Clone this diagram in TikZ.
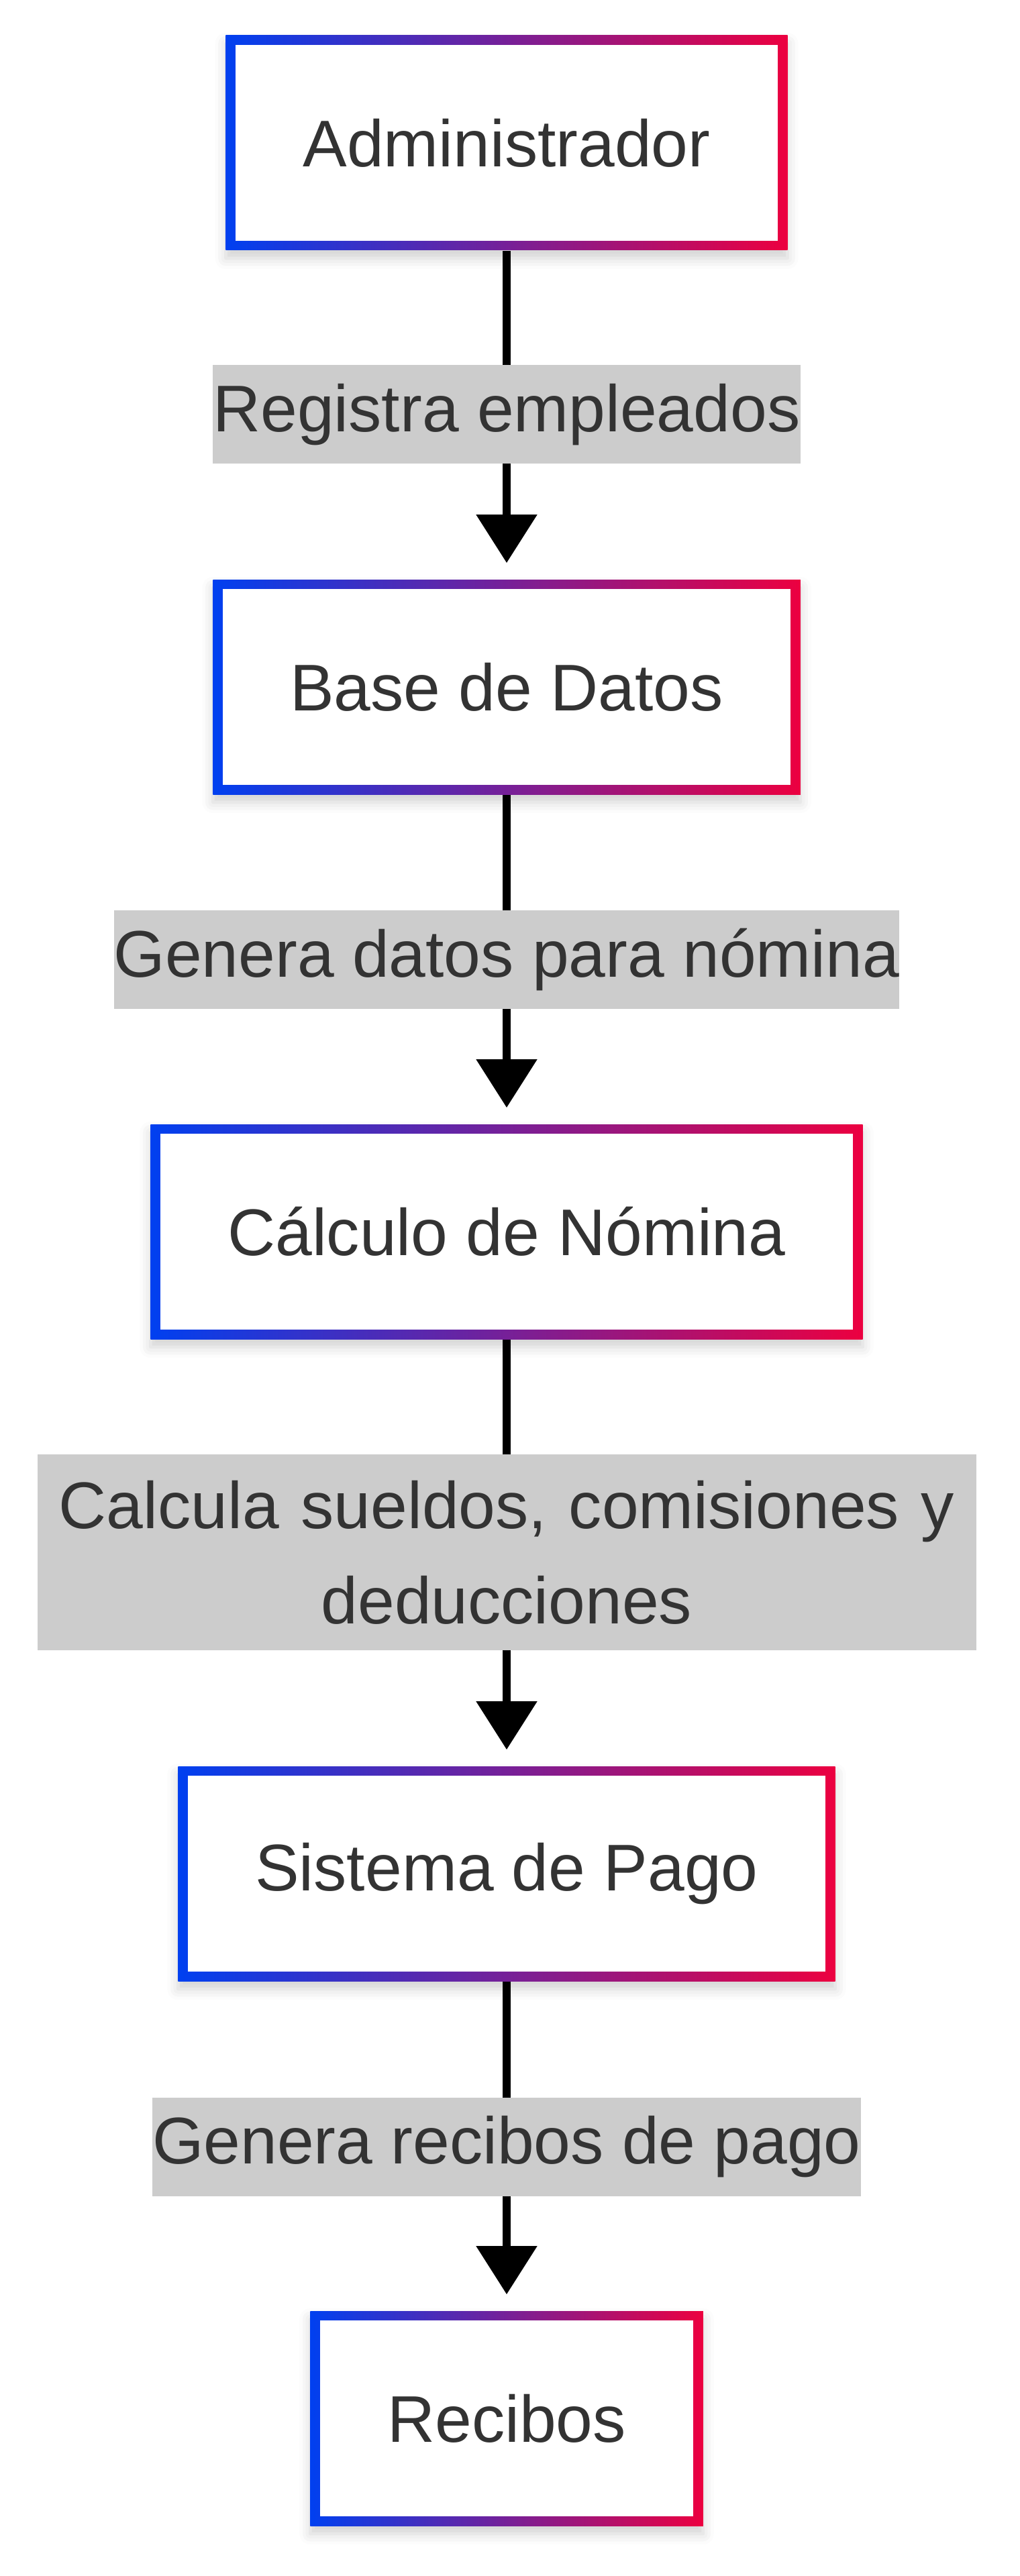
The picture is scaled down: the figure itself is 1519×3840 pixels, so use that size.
\documentclass[tikz,border=0pt]{standalone}
\usepackage{fontspec}
\setmainfont{Liberation Sans}
\usetikzlibrary{arrows.meta,shadows.blur}
\definecolor{gblue}{RGB}{0,64,240}
\definecolor{gred}{RGB}{236,0,64}
\definecolor{txt}{RGB}{51,51,51}
\definecolor{lblbg}{RGB}{204,204,204}
\tikzset{
 gbox/.style={rectangle, inner xsep=28.75pt, inner ysep=0pt, minimum height=80pt,
   left color=gblue, right color=gred, text=txt,
   blur shadow={shadow xshift=0pt, shadow yshift=-3pt, shadow blur radius=4pt, shadow opacity=18},
   path picture={\fill[white] ([shift={(3.6pt,-3.6pt)}]path picture bounding box.north west) rectangle ([shift={(-3.6pt,3.6pt)}]path picture bounding box.south east);}},
 elabel/.style={rectangle, fill=lblbg, text=txt, inner sep=0pt, minimum height=36.75pt},
 flow/.style={line width=3pt, -{Triangle[width=22pt,length=18pt]}, shorten >=6pt},
}
\begin{document}
\begin{tikzpicture}[x=0.25pt, y=-0.25pt, font=\fontsize{24.6pt}{35.5pt}\selectfont]
\useasboundingbox (0,0) rectangle (1519,3840);
\node[gbox] (adm) at (755,213) {Administrador};
\node[gbox] (bd)  at (755,1024) {Base de Datos};
\node[gbox] (cal) at (755,1836) {Cálculo de Nómina};
\node[gbox] (sis) at (755,2793) {Sistema de Pago};
\node[gbox] (rec) at (755,3605) {Recibos};
\draw[flow] (adm) -- (bd);
\draw[flow] (bd) -- (cal);
\draw[flow] (cal) -- (sis);
\draw[flow] (sis) -- (rec);
\node[elabel] (l1) at (755,618) {Registra empleados};
\node[elabel] (l2) at (755,1430) {Genera datos para nómina};
\node[elabel, text width=349.75pt, align=center, minimum height=73pt] (l3) at (755,2314) {Calcula sueldos, comisiones y\\deducciones};
\node[elabel] (l4) at (755,3200) {Genera recibos de pago};
\end{tikzpicture}
\end{document}
